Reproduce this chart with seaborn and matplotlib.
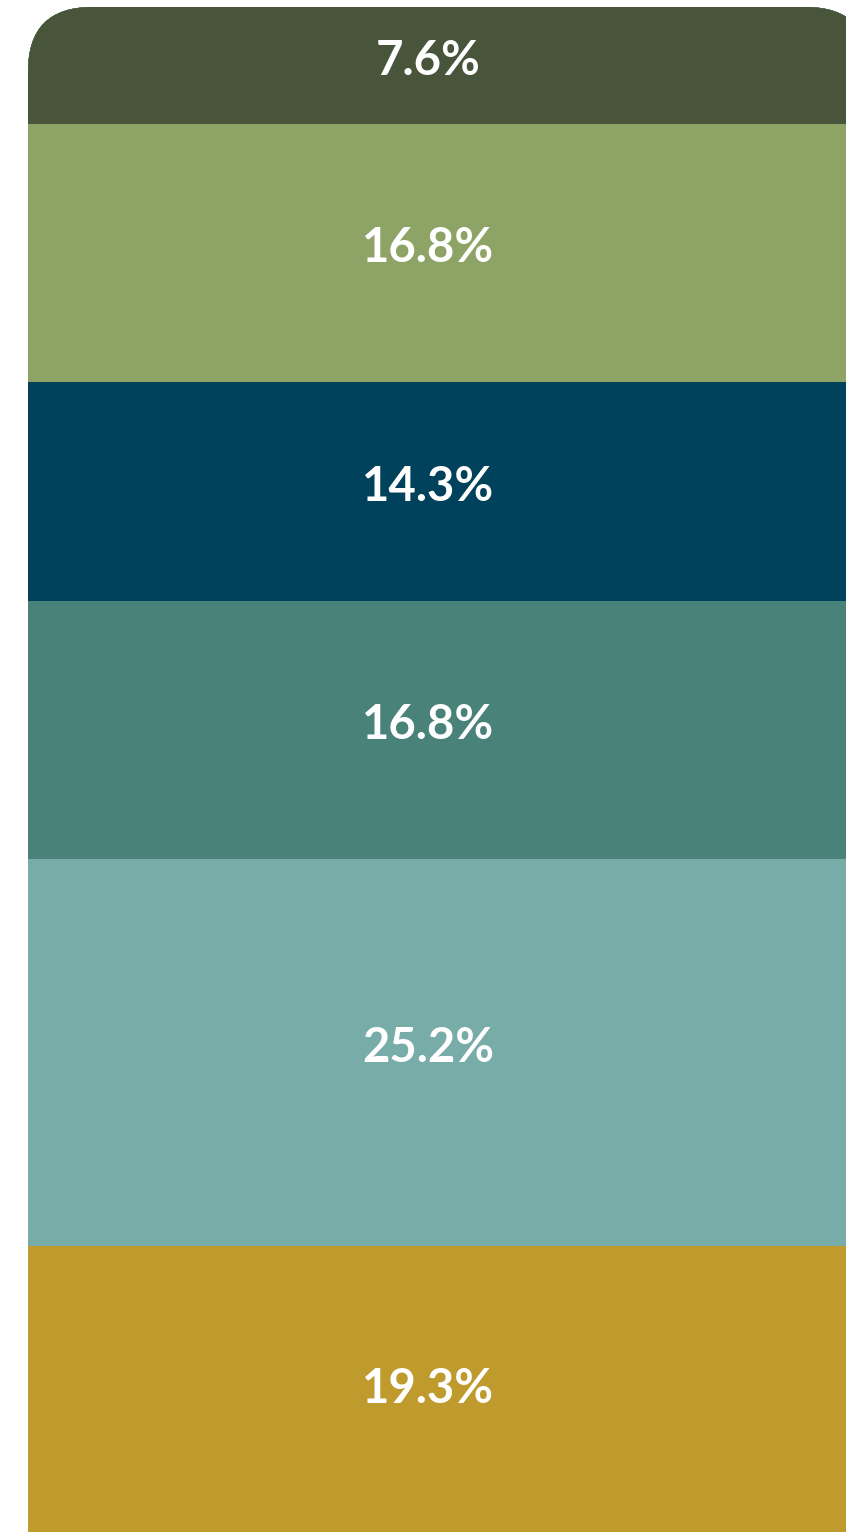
import numpy as np
import pandas as pd
import matplotlib
matplotlib.use("Agg")
import matplotlib.pyplot as plt
from matplotlib.patches import FancyBboxPatch
from matplotlib.transforms import IdentityTransform
import seaborn as sns

# segments from top to bottom of the stacked bar
segments = ["Seg 1", "Seg 2", "Seg 3", "Seg 4", "Seg 5", "Seg 6"]
shares = [7.6, 16.8, 14.3, 16.8, 25.2, 19.3]
colors = ["#48553a", "#8ea466", "#00425b", "#488279", "#78aca9", "#bf9b2e"]

cum_end = np.cumsum(shares)
cum_start = cum_end - np.array(shares)

df = pd.DataFrame({"bar": ["total"] * len(segments),
                   "segment": segments,
                   "cum": cum_end})

plt.rcParams["font.family"] = ["Lato", "DejaVu Sans"]
fig = plt.figure(figsize=(8.46, 15.32), dpi=100)
ax = fig.add_axes([0, 0, 1, 1])

# draw the longest (cumulative) bars first so shorter ones sit on top
order = segments[::-1]
sns.barplot(data=df, x="bar", y="cum", hue="segment", hue_order=order,
            palette=dict(zip(segments, colors)), dodge=False, width=1,
            saturation=1, linewidth=0, legend=False, ax=ax)

ax.set_xlim(-0.5333, 0.4715)
ax.set_ylim(99.35, -0.456)
ax.axis("off")

# rounded top corners: clip all bars to a rounded box in pixel space
x0, y_top = ax.transData.transform((-0.5, 0))
x1, _ = ax.transData.transform((0.5, 0))
clip = FancyBboxPatch((x0, -300), x1 - x0, y_top + 300,
                      boxstyle="round,pad=0,rounding_size=64",
                      transform=IdentityTransform(), facecolor="none",
                      edgecolor="none")
for p in ax.patches:
    p.set_clip_path(clip)

for s0, v in zip(cum_start, shares):
    ax.text(-0.025, s0 + v / 2 - 0.3, f"{v:.1f}%", ha="center", va="center",
            color="white", fontsize=34, fontweight="bold")

fig.savefig("out.png", dpi=100, facecolor="white")
